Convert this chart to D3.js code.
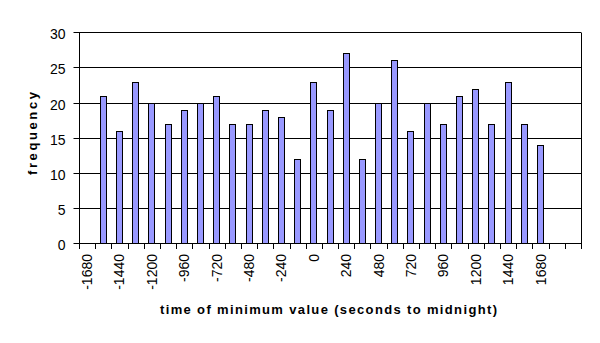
<!DOCTYPE html>
<html>
<head>
<meta charset="utf-8">
<script src="https://cdn.jsdelivr.net/npm/d3@7"></script>
<style>
  html, body { margin: 0; padding: 0; background: #fff; }
  svg { display: block; }
  text { font-family: "Liberation Sans", Arial, sans-serif; fill: #000; }
</style>
</head>
<body>
<svg id="chart" width="600" height="343"></svg>
<script>
// Categories: time of minimum value, seconds relative to midnight (120 s bins)
const categories = d3.range(31).map(i => -1680 + 120 * i);
// Frequency per bin (null = no observation drawn)
const frequencies = [null, 21, 16, 23, 20, 17, 19, 20, 21, 17, 17, 19, 18, 12, 23,
                     19, 27, 12, 20, 26, 16, 20, 17, 21, 22, 17, 23, 17, 14, null, null];
// Labelled every other category
const tickLabels = categories.filter((d, i) => i % 2 === 0 && d <= 1680);
const yTicks = [0, 5, 10, 15, 20, 25, 30];

const svg = d3.select("#chart");
const W = 600;
const x0 = 79, x1 = 581;

const x = d3.scaleBand().domain(categories).range([x0, x1]).paddingInner(0).paddingOuter(0);
const y = d3.scaleLinear().domain([0, 30]).range([243.3, 32.3]);

// Gridlines
svg.append("g").selectAll("line").data(yTicks.filter(d => d > 0)).join("line")
  .attr("x1", x0).attr("x2", x1)
  .attr("y1", d => Math.round(y(d)) + 0.5).attr("y2", d => Math.round(y(d)) + 0.5)
  .attr("stroke", "#000").attr("stroke-width", 1);

// Plot border (right side)
svg.append("line")
  .attr("x1", x1 + 0.5).attr("x2", x1 + 0.5)
  .attr("y1", Math.round(y(30)) + 0.5).attr("y2", Math.round(y(0)) + 0.5)
  .attr("stroke", "#000");

// Bars
const barW = 7;
svg.append("g").selectAll("rect")
  .data(categories.map((c, i) => ({ c, v: frequencies[i] })).filter(d => d.v != null))
  .join("rect")
  .attr("x", d => Math.round(x(d.c) + x.bandwidth() / 2 - barW / 2) + 0.5)
  .attr("width", barW - 1)
  .attr("y", d => Math.round(y(d.v)) + 0.5)
  .attr("height", d => Math.round(y(0)) - Math.round(y(d.v)))
  .attr("fill", "#9999ff")
  .attr("stroke", "#000").attr("stroke-width", 1);

// Y axis
const yAxis = d3.axisLeft(y).tickValues(yTicks).tickSize(6).tickPadding(8).tickFormat(d3.format("d"));
const gy = svg.append("g").attr("transform", `translate(${x0 + 0.5},0.5)`).call(yAxis);
gy.select(".domain").attr("d", `M0,${Math.round(y(30))}V${Math.round(y(0))}`).attr("stroke", "#000");
gy.selectAll(".tick").attr("transform", d => `translate(0,${Math.round(y(d))})`);
gy.selectAll(".tick line").attr("stroke", "#000");
gy.selectAll(".tick text").attr("font-size", 14).attr("dy", "0.45em")
  .style("font-family", "'Liberation Sans', Arial, sans-serif");

// X axis: tick marks at category boundaries
const gx = svg.append("g");
gx.append("line")
  .attr("x1", x0).attr("x2", x1 + 1)
  .attr("y1", Math.round(y(0)) + 0.5).attr("y2", Math.round(y(0)) + 0.5)
  .attr("stroke", "#000");
const bounds = categories.map(c => x(c)).concat([x1]);
gx.selectAll("line.tk").data(bounds).join("line").attr("class", "tk")
  .attr("x1", d => Math.round(d) + 0.5).attr("x2", d => Math.round(d) + 0.5)
  .attr("y1", Math.round(y(0))).attr("y2", Math.round(y(0)) + 6)
  .attr("stroke", "#000");
gx.selectAll("text").data(tickLabels).join("text")
  .attr("transform", d => `translate(${x(d) + x.bandwidth() / 2 + 5},254) rotate(-90)`)
  .attr("text-anchor", "end")
  .attr("font-size", 14)
  .text(d => d);

// Axis titles
svg.append("text")
  .attr("x", 160).attr("y", 314)
  .attr("font-size", 13).attr("font-weight", "bold")
  .attr("textLength", 337).attr("lengthAdjust", "spacing")
  .text("time of minimum value (seconds to midnight)");

svg.append("text")
  .attr("transform", "translate(37,175) rotate(-90)")
  .attr("font-size", 13).attr("font-weight", "bold")
  .attr("textLength", 83).attr("lengthAdjust", "spacing")
  .text("frequency");
</script>
</body>
</html>
